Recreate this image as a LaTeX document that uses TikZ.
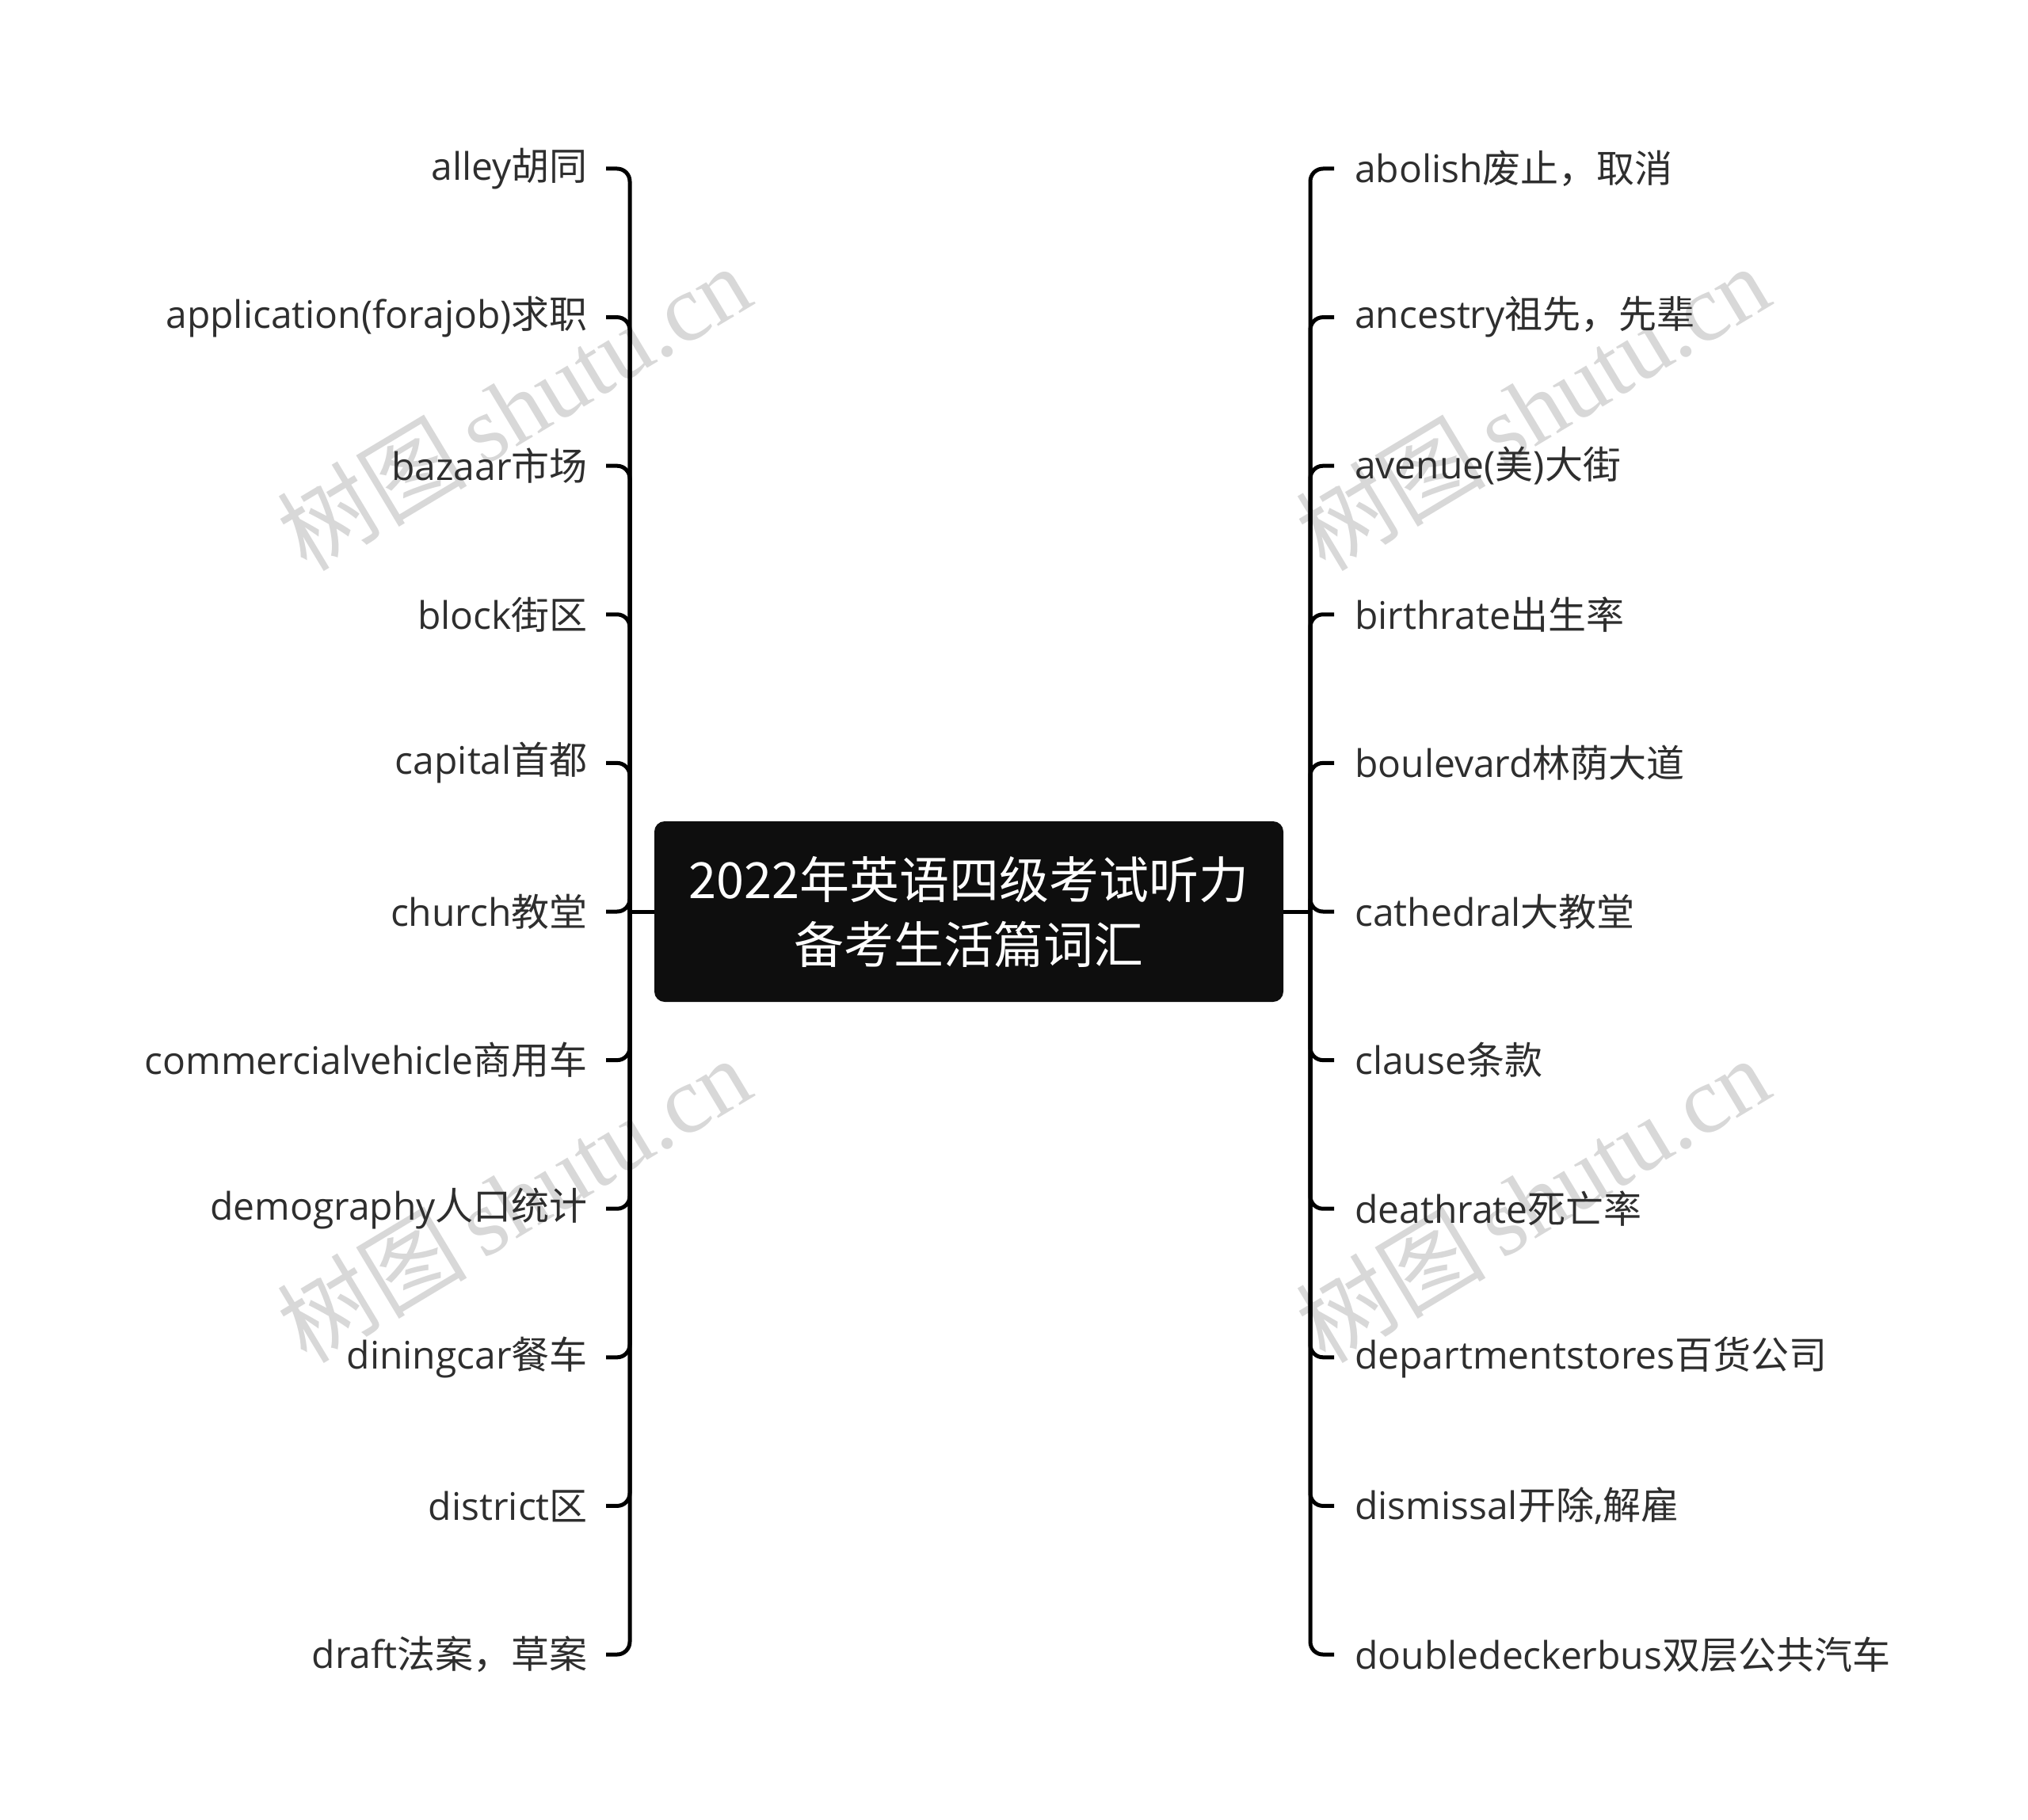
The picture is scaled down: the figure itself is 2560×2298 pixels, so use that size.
\documentclass[tikz,border=0pt]{standalone}
\usepackage{fontspec}
\setmainfont{Open Sans}
\newfontfamily\cjk{Noto Sans CJK SC}
\newfontfamily\wmserif{Liberation Serif}
\definecolor{labelgray}{HTML}{2E2E2E}
\definecolor{rootfill}{HTML}{0E0E0E}
\definecolor{wmgray}{HTML}{D8D8D8}
\newcommand\C[1]{{\cjk #1}}
\tikzset{
  lab/.style={font=\fontsize{48}{56}\selectfont, text=labelgray, inner ysep=0pt},
  leftlab/.style={lab, anchor=east, inner xsep=23pt},
  rightlab/.style={lab, anchor=west, inner xsep=26pt},
  conn/.style={line width=5pt, rounded corners=16pt},
  rootbox/.style={fill=rootfill, rounded corners=13pt, minimum width=794pt, minimum height=228pt,
    text=white, align=center, font=\cjk\fontsize{63}{82}\selectfont, inner sep=0pt},
  wm/.style={text=wmgray, font=\fontsize{120}{120}\selectfont, rotate=31, inner sep=0pt}
}
\begin{document}
\begin{tikzpicture}[x=1pt,y=-1pt]
\useasboundingbox (0,0) rectangle (2560,2298);
% watermarks
\node[wm] (w1) at (648,514) {\cjk 树图\,\wmserif shutu.cn};
\node[wm] (w2) at (1934,514) {\cjk 树图\,\wmserif shutu.cn};
\node[wm] (w3) at (648,1514) {\cjk 树图\,\wmserif shutu.cn};
\node[wm] (w4) at (1934,1514) {\cjk 树图\,\wmserif shutu.cn};
% root
\node[rootbox] (root) at (1223,1151) {2022年英语四级考试听力\\备考生活篇词汇};
\coordinate (lj) at (795,1151);
\coordinate (rj) at (1654,1151);
% left labels
\node[leftlab] (L1) at (765,213) {alley\C{胡同}};
\node[leftlab] (L2) at (765,400.6) {application(forajob)\C{求职}};
\node[leftlab] (L3) at (765,588.2) {bazaar\C{市场}};
\node[leftlab] (L4) at (765,775.8) {block\C{街区}};
\node[leftlab] (L5) at (765,963.4) {capital\C{首都}};
\node[leftlab] (L6) at (765,1151) {church\C{教堂}};
\node[leftlab] (L7) at (765,1338.6) {commercialvehicle\C{商用车}};
\node[leftlab] (L8) at (765,1526.2) {demography\C{人口统计}};
\node[leftlab] (L9) at (765,1713.8) {diningcar\C{餐车}};
\node[leftlab] (L10) at (765,1901.4) {district\C{区}};
\node[leftlab] (L11) at (765,2089) {draft\C{法案，草案}};
% right labels
\node[rightlab] (R1) at (1684,213) {abolish\C{废止，取消}};
\node[rightlab] (R2) at (1684,400.6) {ancestry\C{祖先，先辈}};
\node[rightlab] (R3) at (1684,588.2) {avenue(\C{美})\C{大街}};
\node[rightlab] (R4) at (1684,775.8) {birthrate\C{出生率}};
\node[rightlab] (R5) at (1684,963.4) {boulevard\C{林荫大道}};
\node[rightlab] (R6) at (1684,1151) {cathedral\C{大教堂}};
\node[rightlab] (R7) at (1684,1338.6) {clause\C{条款}};
\node[rightlab] (R8) at (1684,1526.2) {deathrate\C{死亡率}};
\node[rightlab] (R9) at (1684,1713.8) {departmentstores\C{百货公司}};
\node[rightlab] (R10) at (1684,1901.4) {dismissal\C{开除},\C{解雇}};
\node[rightlab] (R11) at (1684,2089) {doubledeckerbus\C{双层公共汽车}};
% connectors
\draw[conn] (root.west) -- (lj);
\draw[conn] (root.east) -- (rj);
\foreach \n in {1,...,11} {
  \draw[conn] (lj) |- (L\n.east);
  \draw[conn] (rj) |- (R\n.west);
}
\end{tikzpicture}
\end{document}
